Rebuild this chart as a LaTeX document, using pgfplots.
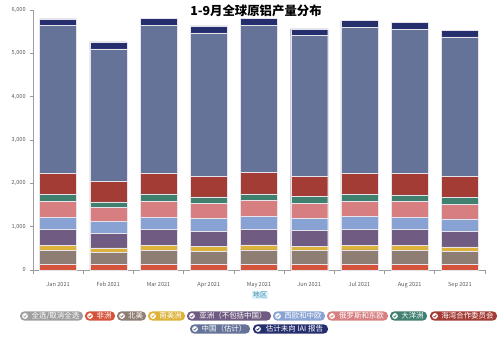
\documentclass[border=0pt]{standalone}
\usepackage{pgfplots}
\pgfplotsset{compat=1.18}
\usepackage{pgfplotstable}
\usepackage{fontspec}
\setmainfont{Noto Sans CJK SC}

\definecolor{cAf}{HTML}{D5533B}
\definecolor{cNA}{HTML}{8E7D73}
\definecolor{cSA}{HTML}{DDB23A}
\definecolor{cAs}{HTML}{705C82}
\definecolor{cWCE}{HTML}{88A2D3}
\definecolor{cRu}{HTML}{D77F80}
\definecolor{cOc}{HTML}{3F806F}
\definecolor{cGCC}{HTML}{A33C35}
\definecolor{cCN}{HTML}{667399}
\definecolor{cUn}{HTML}{262F6D}
\definecolor{cAll}{HTML}{9F9F9F}
\definecolor{cSep}{HTML}{E6E3EA}

\pgfplotstableread{
x Af NA SA As WCE Ru Oc GCC CN Un
0 138 308 116 384 269 362 161 500 3404 155
1 125 283 100 338 269 331 125 469 3064 161
2 138 308 116 384 269 362 177 484 3404 171
3 130 301 107 354 293 346 154 477 3311 162
4 138 324 115 369 292 362 154 500 3388 171
5 125 321 100 362 284 354 146 477 3243 154
6 138 324 107 377 285 354 161 492 3358 162
7 138 308 116 369 284 362 154 500 3327 162
8 125 298 108 361 285 346 154 485 3219 150
}\data

\newcommand\pillfont{\fontsize{5.6}{6}\selectfont}
% cx, cy, w, colour, text  (px units)
\newcommand\pill[5]{%
  \fill[#4, rounded corners=3.2pt] ({#1-#3/2},{#2-4.6}) rectangle ({#1+#3/2},{#2+4.6});
  \fill[white] ({#1-#3/2+5},{#2}) circle (2.9);
  \draw[#4, line width=0.55pt] ({#1-#3/2+3.6},{#2+0.1}) -- ({#1-#3/2+4.7},{#2-1.1}) -- ({#1-#3/2+6.5},{#2+1.2});
  \node[text=white, font=\pillfont, inner sep=0pt] at ({#1+4},{#2}) {#5};
}

\begin{document}
\begin{tikzpicture}[x=0.75pt,y=0.75pt]
\path[use as bounding box] (0,0) rectangle (500,336);
\begin{axis}[
  at={(24.75pt,49.5pt)}, anchor=south west,
  scale only axis, width=339pt, height=195pt,
  xmin=-0.5, xmax=8.5, ymin=0, ymax=6000,
  ybar stacked, bar width=27.75pt,
  xtick={0,...,8},
  xticklabels={Jan 2021,Feb 2021,Mar 2021,Apr 2021,May 2021,Jun 2021,Jul 2021,Aug 2021,Sep 2021},
  major x tick style={draw=none},
  minor xtick={-0.5,0.5,...,8.5},
  minor tick length=3pt,
  major tick length=2pt,
  tick align=outside,
  tick style={gray!80, line width=0.5pt},
  ytick={0,1000,...,6000},
  scaled y ticks=false,
  axis x line*=bottom, axis y line*=left,
  axis line style={-, gray!75, line width=0.6pt},
  tick label style={font=\fontsize{4.2}{5}\selectfont, text=black!65},
  xticklabel style={anchor=north, text height=3.2pt, text depth=1pt, yshift=-4pt},
  /pgf/number format/assume math mode=true,
  /pgf/number format/1000 sep={,},
  every axis plot/.append style={draw=cSep, line width=0.3pt},
]
\addplot[fill=cAf] table[x=x,y=Af]{\data};
\addplot[fill=cNA] table[x=x,y=NA]{\data};
\addplot[fill=cSA] table[x=x,y=SA]{\data};
\addplot[fill=cAs] table[x=x,y=As]{\data};
\addplot[fill=cWCE] table[x=x,y=WCE]{\data};
\addplot[fill=cRu] table[x=x,y=Ru]{\data};
\addplot[fill=cOc] table[x=x,y=Oc]{\data};
\addplot[fill=cGCC] table[x=x,y=GCC]{\data};
\addplot[fill=cCN] table[x=x,y=CN]{\data};
\addplot[fill=cUn] table[x=x,y=Un]{\data};
\end{axis}
\node[font=\fontsize{9.3}{10}\selectfont\bfseries] at (256,325.5) {1-9月全球原铝产量分布};
\node[font=\fontsize{5.3}{6}\selectfont, text=cyan!60!black, fill=cyan!15, inner sep=0.8pt] at (260,41) {地区};
\pill{51.5}{20}{63}{cAll}{全选/取消全选}
\pill{100}{20}{30}{cAf}{非洲}
\pill{131.5}{20}{29}{cNA}{北美}
\pill{166.5}{20}{37}{cSA}{南美洲}
\pill{229}{20}{84}{cAs}{亚洲（不包括中国）}
\pill{299}{20}{52}{cWCE}{西欧和中欧}
\pill{357.5}{20}{61}{cRu}{俄罗斯和东欧}
\pill{408.5}{20}{37}{cOc}{大洋洲}
\pill{463.5}{20}{67}{cGCC}{海湾合作委员会}
\pill{220}{7}{60}{cCN}{中国（估计）}
\pill{290.5}{7}{75}{cUn}{估计未向 IAI 报告}
\end{tikzpicture}
\end{document}
